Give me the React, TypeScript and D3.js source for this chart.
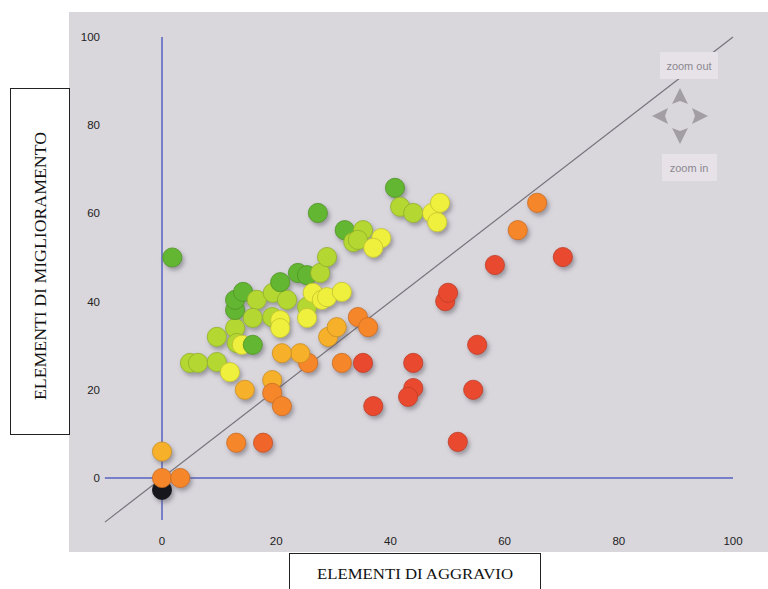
import React from "react";
import * as d3 from "d3";

// values: aggravio (x), miglioramento (y), colour class
const aggravio = [
  0, 1.8, 0, 0, 3.2, 13, 17.7, 14.5, 19.3, 19.3, 21, 37, 35.2, 31.5, 25.6, 24.2, 21,
  29.1, 30.6, 34.3, 36.1, 44, 44, 43.1, 49.6, 50.1, 51.8, 54.5, 55.2, 58.3, 62.3,
  65.7, 70.2,
  4.9, 6.3, 9.6, 11.9, 9.6, 12.8, 13.1, 14, 15.9, 12.8, 12.8, 14.2, 16.6, 15.9, 19.3,
  20.7, 20.7, 19.4, 21.9, 20.7, 23.8, 25.4, 25.4, 26.4, 28, 28.9, 31.5, 25.4, 27.7,
  28.9, 27.3, 32, 33.5, 35.2, 34.3, 38.4, 37, 40.8, 41.7, 44, 47.3, 48.7, 48.2,
];
const miglioramento = [
  -2.7, 50, 6, 0, 0, 8, 8, 20, 22.2, 19.3, 16.3, 16.3, 26.1, 26.1, 26.1, 28.3, 28.3,
  32, 34.2, 36.5, 34.2, 26.1, 20.4, 18.4, 40.1, 42, 8.2, 20, 30.2, 48.3, 56.2,
  62.4, 50.1,
  26.1, 26.1, 26.3, 24, 32, 34, 30.6, 30.2, 30.2, 38.1, 40.4, 42.2, 40.4, 36.3, 36.5,
  35.8, 34, 42, 40.4, 44.4, 46.5, 46, 38.8, 42, 40.4, 41, 42.2, 36.3, 46.5,
  50.1, 60.1, 56.2, 53.5, 56.2, 54, 54.4, 52.2, 65.8, 61.5, 60.1, 60.1, 62.4, 58,
];
const classe = [
  7, 0, 3, 4, 4, 4, 5, 3, 3, 4, 4, 6, 6, 4, 4, 3, 3,
  3, 3, 4, 4, 6, 6, 6, 6, 6, 6, 6, 6, 6, 4,
  4, 6,
  1, 1, 1, 2, 1, 1, 1, 2, 0, 0, 0, 0, 1, 1, 1,
  2, 2, 1, 1, 0, 0, 0, 1, 2, 2, 2, 2, 2, 1,
  1, 0, 0, 1, 1, 1, 2, 2, 0, 1, 1, 2, 2, 2,
];
const palette = ["#63b630", "#b4d733", "#eff03c", "#f7b02b", "#f6862a", "#f0652c", "#e94a2f", "#17171f"];
const ticks = [0, 20, 40, 60, 80, 100];

const points = aggravio.map((v, i) => ({ x: v, y: miglioramento[i], c: classe[i] }));

export default function App() {
  const x = d3.scaleLinear().domain([0, 100]).range([162, 733]);
  const y = d3.scaleLinear().domain([0, 100]).range([478, 37]);
  const cx = 680, cy = 116;
  const arrow = (rot: number) => (
    <path
      key={rot}
      d={`M0,-28 L8,-12 L0,-15 L-8,-12 Z`}
      transform={`translate(${cx},${cy}) rotate(${rot})`}
      fill="#a39ea3"
    />
  );

  return (
    <svg width={768} height={589} style={{ position: "absolute", left: 0, top: 0 }}>
      <defs>
        <filter id="shadow" x="-50%" y="-50%" width="200%" height="200%">
          <feDropShadow dx="2" dy="3" stdDeviation="2" floodColor="#5a5560" floodOpacity="0.5" />
        </filter>
      </defs>
      <rect x={0} y={0} width={768} height={589} fill="#ffffff" />
      <rect x={69} y={12} width={699} height={540} fill="#d9d6dc" />

      {/* axis lines */}
      <line x1={x(-10)} y1={y(-10)} x2={x(100)} y2={y(100)} stroke="#77737a" strokeWidth={1.2} />
      <line x1={x(0)} y1={y(100)} x2={x(0)} y2={y(-9.5)} stroke="#5562c0" strokeWidth={1.5} />
      <line x1={x(-10)} y1={y(0)} x2={x(100)} y2={y(0)} stroke="#5562c0" strokeWidth={1.5} />

      {ticks.map((t) => (
        <text key={"y" + t} x={100} y={y(t)} dy="0.35em" textAnchor="end"
          fontFamily="Liberation Sans, Arial" fontSize={11.5} fill="#222">{t}</text>
      ))}
      {ticks.map((t) => (
        <text key={"x" + t} x={x(t)} y={541} dy="0.35em" textAnchor="middle"
          fontFamily="Liberation Sans, Arial" fontSize={11.5} fill="#222">{t}</text>
      ))}

      <g filter="url(#shadow)">
        {points.map((p, i) => (
          <circle key={i} cx={x(p.x)} cy={y(p.y)} r={9.6} fill={palette[p.c]}
            stroke={d3.color(palette[p.c])!.darker(0.6).toString()} strokeWidth={0.8} />
        ))}
      </g>

      {/* zoom controls */}
      <rect x={660} y={52} width={58} height={27} fill="#e6e2e8" />
      <text x={689} y={66} dy="0.35em" textAnchor="middle" fontFamily="Liberation Sans, Arial"
        fontSize={11} fill="#8c8890">zoom out</text>
      {[0, 90, 180, 270].map(arrow)}
      <rect x={662} y={154} width={55} height={27} fill="#e6e2e8" />
      <text x={689} y={168} dy="0.35em" textAnchor="middle" fontFamily="Liberation Sans, Arial"
        fontSize={11} fill="#8c8890">zoom in</text>

      {/* axis title boxes */}
      <rect x={10.5} y={88.5} width={59} height={346} fill="#fff" stroke="#222" strokeWidth={1} />
      <text transform="translate(46,266) rotate(-90)" textAnchor="middle" textLength={268}
        lengthAdjust="spacingAndGlyphs"
        fontFamily="Liberation Serif, Times New Roman" fontSize={16} fill="#111">ELEMENTI DI MIGLIORAMENTO</text>
      <rect x={289.5} y={553.5} width={251} height={42} fill="#fff" stroke="#222" strokeWidth={1} />
      <text x={415} y={579} textAnchor="middle" textLength={196} lengthAdjust="spacingAndGlyphs"
        fontFamily="Liberation Serif, Times New Roman" fontSize={15} fill="#111">ELEMENTI DI AGGRAVIO</text>
    </svg>
  );
}
